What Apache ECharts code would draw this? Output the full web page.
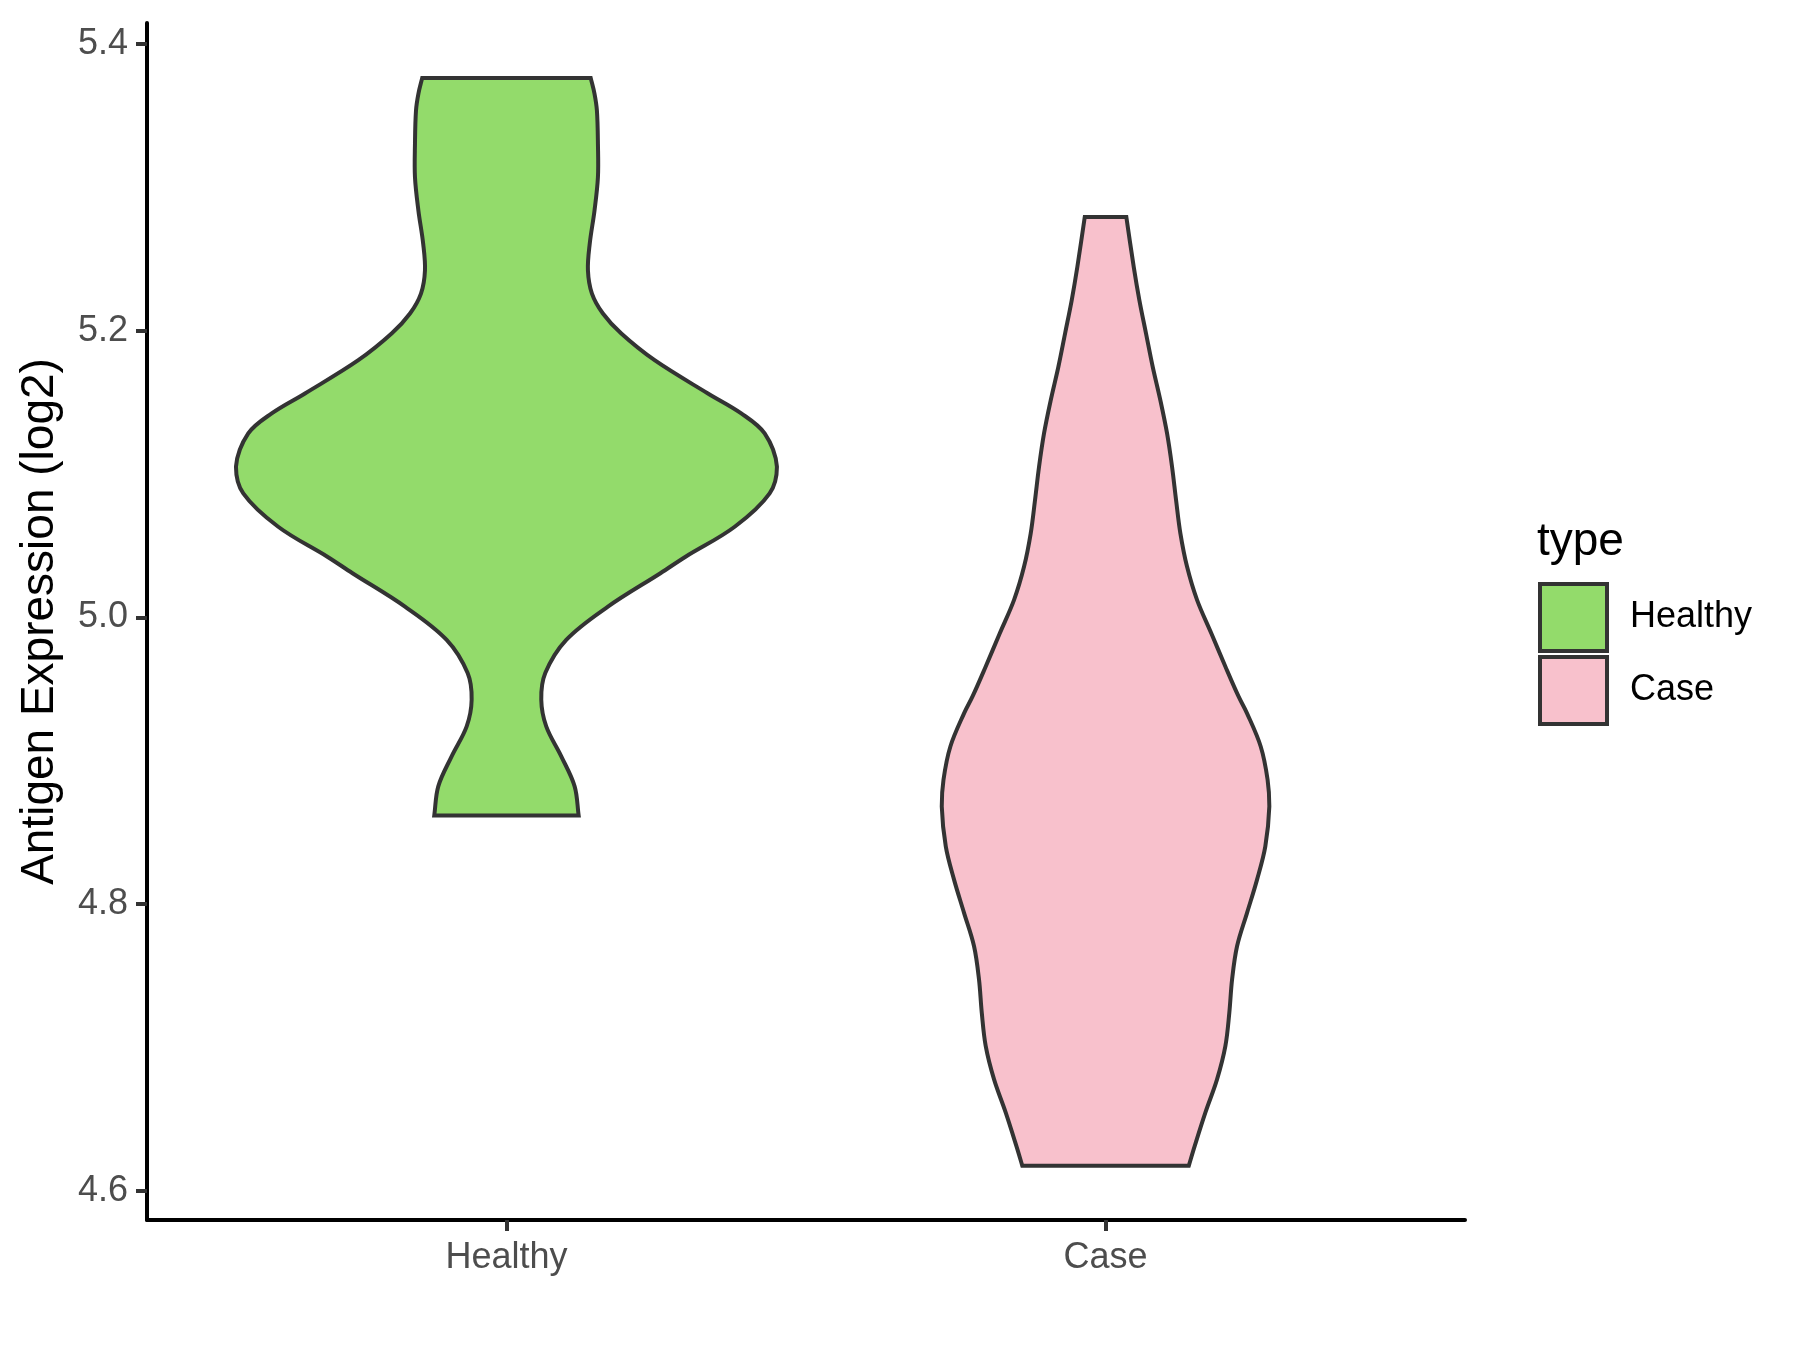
<!DOCTYPE html>
<html>
<head>
<meta charset="utf-8">
<title>Antigen Expression (log2)</title>
<script src="https://cdn.jsdelivr.net/npm/echarts@6/dist/echarts.min.js"></script>
<style>
  html, body { margin: 0; padding: 0; background: #fff; }
  #chart { width: 1800px; height: 1350px; }
</style>
</head>
<body>
<div id="chart"></div>
<script>
const categories = ["Healthy", "Case"];
const fillColors = ["#93DB6B", "#F8C1CC"];

// violin outlines: expression value and half width (category units)
const healthyY = [5.3765, 5.3654, 5.3537, 5.3305, 5.3072, 5.284, 5.2608, 5.2422, 5.226, 5.2121,
  5.1981, 5.1795, 5.1563, 5.1424, 5.1284, 5.1052, 5.0866, 5.0633, 5.0424, 5.0309, 5.0076,
  4.9844, 4.9612, 4.9426, 4.924, 4.9031, 4.8822, 4.8618];
const healthyHalfWidth = [0.1406, 0.147, 0.151, 0.1527, 0.1527, 0.147, 0.139, 0.136, 0.1427, 0.161,
  0.1917, 0.2473, 0.3363, 0.3919, 0.431, 0.4515, 0.4393, 0.381, 0.299, 0.257, 0.1694,
  0.0998, 0.0648, 0.0581, 0.0664, 0.0915, 0.1138, 0.1205];

const caseY = [5.2794, 5.2445, 5.2213, 5.1981, 5.1748, 5.1516, 5.1284, 5.1052, 5.082, 5.0587,
  5.0355, 5.0123, 4.989, 4.9658, 4.9449, 4.9333, 4.91, 4.8868, 4.8682, 4.8403,
  4.8171, 4.7939, 4.7706, 4.7474, 4.7242, 4.7009, 4.6777, 4.6545, 4.6313, 4.6174];
const caseHalfWidth = [0.0347, 0.0471, 0.0565, 0.0676, 0.0788, 0.0915, 0.1027, 0.111, 0.1177, 0.1249,
  0.136, 0.1527, 0.1765, 0.200, 0.222, 0.236, 0.259, 0.2705, 0.2734, 0.2667,
  0.2529, 0.2362, 0.2195, 0.2112, 0.2066, 0.2, 0.1861, 0.1666, 0.1489, 0.1389];

const yTicks = [4.6, 4.8, 5.0, 5.2, 5.4];
const xTicks = [1, 2];

const font = "'Liberation Sans', Arial, sans-serif";
const outline = "#333333";

function violinItem(ys, hws) {
  return function (params, api) {
    const cx = api.value(0);
    const n = ys.length;
    const left = [], right = [];
    for (let i = 0; i < n; i++) {
      left.push(api.coord([cx - hws[i], ys[i]]));
      right.push(api.coord([cx + hws[i], ys[i]]));
    }
    right.reverse();
    // corners doubled so the smoothing keeps the flat ends sharp
    const pts = [left[0]].concat(left, [left[n - 1]], [right[0]], right, [right[n - 1]]);
    let x0 = Infinity, y0 = Infinity, x1 = -Infinity, y1 = -Infinity;
    pts.forEach(function (p) {
      x0 = Math.min(x0, p[0]); y0 = Math.min(y0, p[1]);
      x1 = Math.max(x1, p[0]); y1 = Math.max(y1, p[1]);
    });
    return {
      type: "polygon",
      shape: { points: pts, smooth: 0.35, smoothConstraint: [[x0, y0], [x1, y1]] },
      style: { fill: api.visual("color"), stroke: outline, lineWidth: 4, lineJoin: "miter" }
    };
  };
}

const chart = echarts.init(document.getElementById("chart"));

chart.setOption({
  animation: false,
  backgroundColor: "#ffffff",
  title: {
    text: "type",
    left: 1537,
    top: 519,
    padding: 0,
    textStyle: { fontFamily: font, fontSize: 46, fontWeight: "normal", color: "#000000" }
  },
  legend: {
    orient: "vertical",
    left: 1538,
    top: 582,
    padding: 0,
    itemWidth: 67,
    itemHeight: 67,
    itemGap: 2,
    selectedMode: false,
    icon: "rect",
    itemStyle: { borderColor: outline, borderWidth: 4 },
    textStyle: { fontFamily: font, fontSize: 36, color: "#000000", padding: [0, 0, 0, 18] },
    data: categories
  },
  grid: { left: 147, right: 335, top: 23, bottom: 130 },
  xAxis: {
    type: "value",
    min: 0.4,
    max: 2.6,
    splitLine: { show: false },
    axisLine: { lineStyle: { color: "#000000", width: 4 } },
    axisTick: { customValues: xTicks, length: 11, lineStyle: { color: outline, width: 4 } },
    axisLabel: {
      customValues: xTicks,
      margin: 20,
      fontFamily: font,
      fontSize: 36,
      color: "#4D4D4D",
      formatter: function (v) { return categories[Math.round(v) - 1]; }
    }
  },
  yAxis: {
    type: "value",
    min: 4.5796,
    max: 5.4148,
    name: "Antigen Expression (log2)",
    nameLocation: "middle",
    nameGap: 84,
    nameTextStyle: { fontFamily: font, fontSize: 46, color: "#000000" },
    splitLine: { show: false },
    axisLine: { lineStyle: { color: "#000000", width: 4 } },
    axisTick: { customValues: yTicks, length: 11, lineStyle: { color: outline, width: 4 } },
    axisLabel: {
      customValues: yTicks,
      margin: 19,
      fontFamily: font,
      fontSize: 36,
      color: "#4D4D4D",
      formatter: function (v) { return v.toFixed(1); }
    }
  },
  series: [
    {
      type: "custom",
      name: categories[0],
      renderItem: violinItem(healthyY, healthyHalfWidth),
      itemStyle: { color: fillColors[0], borderColor: outline, borderWidth: 4 },
      data: [[1, healthyY[0]]],
      silent: true
    },
    {
      type: "custom",
      name: categories[1],
      renderItem: violinItem(caseY, caseHalfWidth),
      itemStyle: { color: fillColors[1], borderColor: outline, borderWidth: 4 },
      data: [[2, caseY[0]]],
      silent: true
    }
  ]
});
</script>
</body>
</html>
